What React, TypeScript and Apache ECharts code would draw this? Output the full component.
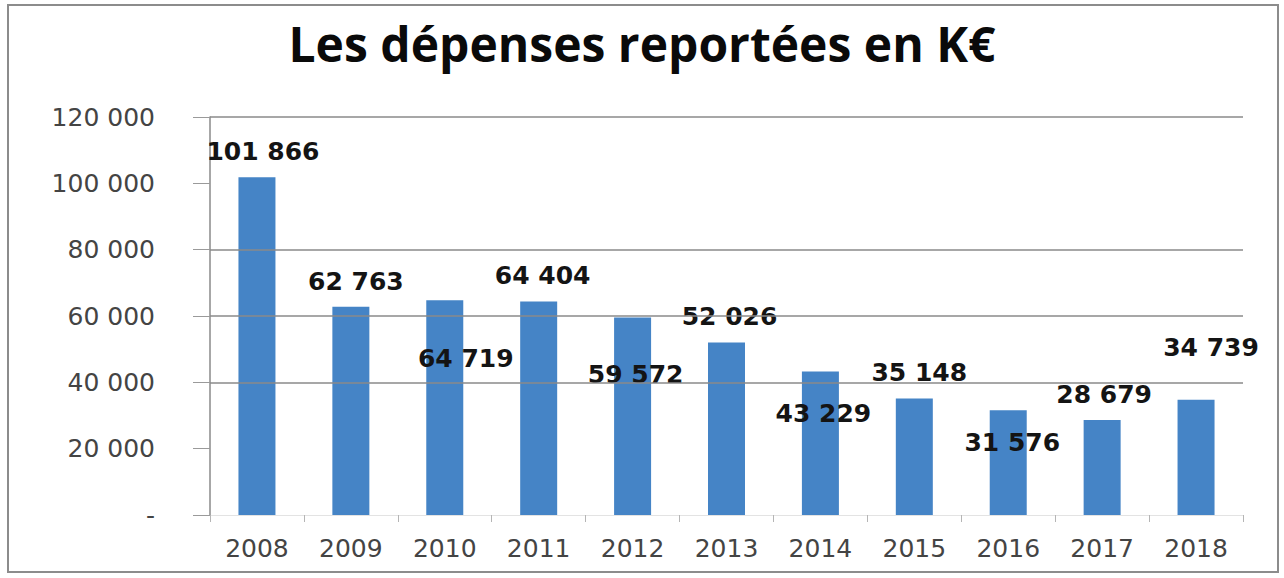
import React, { useEffect, useRef } from "react";
import * as echarts from "echarts";

const chartTitle = "Les dépenses reportées en K€";
const years = ["2008", "2009", "2010", "2011", "2012", "2013", "2014", "2015", "2016", "2017", "2018"];
const expenses = [101866, 62763, 64719, 64404, 59572, 52026, 43229, 35148, 31576, 28679, 34739];
const yMin = 0;
const yMax = 120000;
const yInterval = 20000;
// gridlines visible in the original
const gridValues = [40000, 60000, 80000, 120000];

// label nudges (px) reproducing the original label placement
const labelNudges: number[][] = [
  [6, 0], [5, 0], [21, 84], [4, 0], [3, 83], [3, 0], [3, 67], [5, 0], [4, 58], [2, 0], [15, -27],
];

const fmt = (v: number) =>
  v === 0 ? "-" : String(Math.round(v)).replace(/\B(?=(\d{3})+(?!\d))/g, " ");

export default function App() {
  const ref = useRef<HTMLDivElement>(null);
  useEffect(() => {
    if (!ref.current) return;
    const chart = echarts.init(ref.current, undefined, { renderer: "svg" });
    chart.setOption({
      animation: false,
      backgroundColor: "#ffffff",
      title: {
        text: chartTitle,
        left: "center",
        top: 14,
        textStyle: {
          fontFamily: "Open Sans",
          fontWeight: "bold",
          fontSize: 48,
          color: "#0a0a0a",
        },
      },
      graphic: [
        {
          type: "rect",
          shape: { x: 8, y: 5, width: 1270, height: 567 },
          style: { fill: "none", stroke: "#8c8c8c", lineWidth: 2 },
          silent: true,
        },
      ],
      grid: { left: 210, right: 41, top: 117, bottom: 63 },
      xAxis: {
        type: "category",
        data: years,
        axisLine: { show: true, lineStyle: { color: "#e3e3e3", width: 1 } },
        axisTick: { show: true, length: 7, lineStyle: { color: "#b5b5b5" } },
        axisLabel: {
          margin: 21,
          fontFamily: "DejaVu Sans",
          fontSize: 25,
          color: "#444444",
        },
      },
      yAxis: {
        type: "value",
        min: yMin,
        max: yMax,
        interval: yInterval,
        axisLine: { show: true, lineStyle: { color: "#8a8a8a", width: 1.5 } },
        axisTick: { show: true, inside: false, length: 17, lineStyle: { color: "#9a9a9a" } },
        axisLabel: {
          margin: 55,
          fontFamily: "DejaVu Sans",
          fontSize: 25,
          color: "#444444",
          formatter: (v: number) => fmt(v),
        },
        splitLine: { show: false },
      },
      series: [
        {
          type: "line",
          data: [],
          z: 1,
          silent: true,
          markLine: {
            silent: true,
            symbol: "none",
            label: { show: false },
            lineStyle: { type: "solid", color: "#8a8a8a", width: 1.5 },
            data: gridValues.map((g) => ({ yAxis: g })),
          },
        },
        {
          type: "bar",
          z: 3,
          barWidth: 37,
          itemStyle: { color: "#4584c6" },
          data: expenses.map((v, i) => ({
            value: v,
            label: { offset: labelNudges[i] },
          })),
          label: {
            show: true,
            position: "top",
            distance: 13,
            fontFamily: "DejaVu Sans",
            fontWeight: "bold",
            fontSize: 25,
            color: "#141414",
            formatter: (p: any) => fmt(p.value),
          },
        },
      ],
    });
    return () => chart.dispose();
  }, []);
  return (
    <div
      ref={ref}
      style={{ position: "absolute", left: 0, top: 0, width: 1284, height: 578 }}
    />
  );
}
